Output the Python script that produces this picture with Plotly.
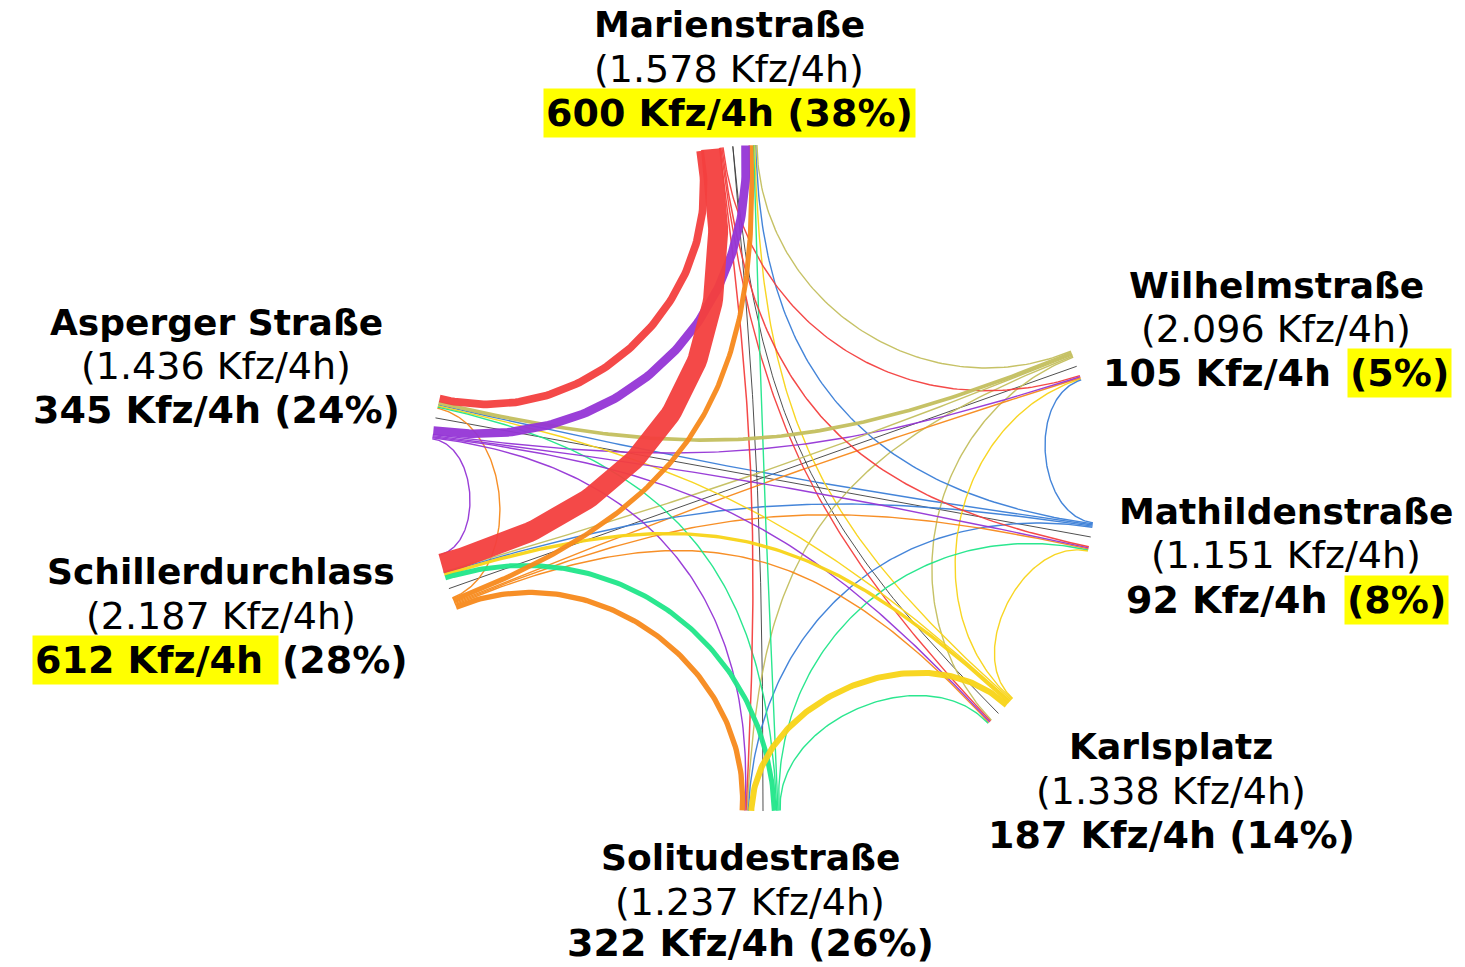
import math
import numpy as np
import plotly.graph_objects as go

W, H = 1465, 967

# Knotenpunkte im Uhrzeigersinn, beginnend oben
nodes = ["Marienstraße", "Wilhelmstraße", "Mathildenstraße", "Karlsplatz",
         "Solitudestraße", "Schillerdurchlass", "Asperger Straße"]
node_colors = ["#f4403f", "#c4bf5e", "#3b7fd8", "#f8d418",
               "#20e68a", "#f78a1c", "#9535d6"]
node_angles = [95.2, 19.6, -10.2, -45.0, -90.0, -160.6, 169.6]  # Grad, mathematisch

totals = ["1.578", "2.096", "1.151", "1.338", "1.237", "2.187", "1.436"]
focus_counts = [600, 105, 92, 187, 322, 612, 345]
focus_shares = [38, 5, 8, 14, 26, 28, 24]

# flows[i][j]: Kfz/4h von Knoten i nach Knoten j
flows = [
    #  Mar  Wil  Mat  Karl  Sol  Sch  Asp
    [0,    35,  45,  40,   45,  600, 230],   # Marienstraße
    [35,   0,   0,   30,   30,  40,  110],   # Wilhelmstraße
    [30,   40,  0,   0,    35,  40,  25],    # Mathildenstraße
    [30,   35,  40,  0,    180, 100, 40],    # Karlsplatz
    [40,   0,   35,  40,   0,   150, 40],    # Solitudestraße
    [150,  35,  35,  35,   160, 0,   30],    # Schillerdurchlass
    [260,  35,  40,  40,   40,  35,  0],     # Asperger Straße
]
# dünne graue Verbindungen zwischen den Anschlüssen
grey_links = [(0, 4), (6, 2), (1, 5), (3, 0)]

# Beschriftung: Mittelpunkt x, Zeilen-y (Name, Summe, Anteil), Markierung
label_x = [729, 1276, 1286, 1171, 750, 221, 216]
label_y = [(24, 69, 113), (285, 329, 373), (511, 555, 600), (746, 791, 835),
           (857, 902, 943), (571, 616, 660), (322, 366, 410)]
highlight = ["all", "share", "share", None, None, "count", None]

# Geometrie
CX, CY, R = 763.0, 478.0, 333.0
PORT_GAP = math.radians(1.6)
PACK = 0.8
KFZ_PER_PX = 30.0
MIN_W = 1.4
TWO_PI = 2 * math.pi


def chord_curve(a, b, n=120):
    """Kubische Bezier-Kurve mit radialen Tangenten zwischen den Winkeln a und b.
    Je weiter die Enden auseinander liegen, desto näher führt sie zur Mitte."""
    diff = abs((b - a + math.pi) % TWO_PI - math.pi)
    k = min(1.0, max(0.2, 1.0 - math.degrees(diff) / 145.0))
    p0 = np.array([math.cos(a), math.sin(a)])
    p3 = np.array([math.cos(b), math.sin(b)])
    t = np.linspace(0, 1, n)[:, None]
    pts = ((1 - t) ** 3) * p0 + 3 * (1 - t) ** 2 * t * k * p0 \
        + 3 * (1 - t) * t ** 2 * k * p3 + t ** 3 * p3
    return pts[:, 0], pts[:, 1]


def to_screen(u, v):
    return CX + R * np.asarray(u), CY - R * np.asarray(v)


theta = [math.radians(a) for a in node_angles]
n = len(nodes)


def width_px(v):
    return max(MIN_W, v / KFZ_PER_PX)


# Anschlusspunkte der Ströme an Quelle (Ausgang) und Ziel (Eingang)
out_end, in_end = {}, {}
for i in range(n):
    dests = [j for j in range(n) if flows[i][j] > 0]
    dests.sort(key=lambda j: -((theta[j] - theta[i]) % TWO_PI))
    pos = theta[i] + PORT_GAP
    for j in dests:
        w = width_px(flows[i][j]) * PACK / R
        out_end[(i, j)] = pos + w / 2
        pos += w
for j in range(n):
    srcs = [i for i in range(n) if flows[i][j] > 0]
    srcs.sort(key=lambda i: (theta[i] - theta[j]) % TWO_PI)
    pos = theta[j] - PORT_GAP
    for i in srcs:
        w = width_px(flows[i][j]) * PACK / R
        in_end[(i, j)] = pos - w / 2
        pos -= w

fig = go.Figure()

for a, b in grey_links:
    u, v = chord_curve(theta[a], theta[b])
    x, y = to_screen(u, v)
    fig.add_trace(go.Scatter(x=x, y=y, mode="lines",
                             line=dict(color="#3c3c3c", width=0.9),
                             hoverinfo="skip", showlegend=False))

pairs = [(i, j) for i in range(n) for j in range(n) if flows[i][j] > 0]
pairs.sort(key=lambda p: flows[p[0]][p[1]])
for i, j in pairs:
    u, v = chord_curve(out_end[(i, j)], in_end[(i, j)])
    x, y = to_screen(u, v)
    fig.add_trace(go.Scatter(
        x=x, y=y, mode="lines",
        line=dict(color=node_colors[i], width=width_px(flows[i][j])),
        opacity=0.95,
        name=f"{nodes[i]} → {nodes[j]}",
        hovertemplate=f"{nodes[i]} → {nodes[j]}: {flows[i][j]} Kfz/4h<extra></extra>",
        showlegend=False))

# Textbreiten (DejaVu Sans Bold, Einheiten pro em) zur Ausrichtung geteilter Zeilen
BOLD_EM = {" ": 0.348, "(": 0.456, ")": 0.456, "%": 1.002, "/": 0.368,
           "K": 0.775, "f": 0.435, "z": 0.581, "h": 0.712, "\u00a0": 0.348}
for d in "0123456789":
    BOLD_EM[d] = 0.696


def text_w(s, size):
    return sum(BOLD_EM.get(c, 0.65) for c in s) * size


FAMILY = "DejaVu Sans"
NAME_SIZE, TOTAL_SIZE, COUNT_SIZE = 36, 38, 38
YELLOW = "#ffff00"

annotations = []
for k in range(n):
    xc = label_x[k]
    y_name, y_total, y_count = label_y[k]
    annotations.append(dict(x=xc, y=y_name, text=f"<b>{nodes[k]}</b>",
                            font=dict(family=FAMILY, size=NAME_SIZE, color="black")))
    annotations.append(dict(x=xc, y=y_total, text=f"({totals[k]} Kfz/4h)",
                            font=dict(family=FAMILY, size=TOTAL_SIZE, color="black")))
    count_txt = f"{focus_counts[k]} Kfz/4h\u00a0"
    share_txt = f"({focus_shares[k]}%)"
    cfont = dict(family=FAMILY, size=COUNT_SIZE, color="black")
    mode = highlight[k]
    if mode is None or mode == "all":
        annotations.append(dict(x=xc, y=y_count,
                                text=f"<b>{focus_counts[k]} Kfz/4h {share_txt}</b>",
                                font=cfont,
                                bgcolor=YELLOW if mode == "all" else None,
                                borderpad=2))
    else:
        wl = text_w(count_txt, COUNT_SIZE)
        wr = text_w(share_txt, COUNT_SIZE)
        split = xc - (wl + wr) / 2 + wl
        annotations.append(dict(x=split, y=y_count, xanchor="right",
                                text=f"<b>{count_txt}</b>", font=cfont,
                                bgcolor=YELLOW if mode == "count" else None,
                                borderpad=2))
        annotations.append(dict(x=split, y=y_count, xanchor="left",
                                text=f"<b>{share_txt}</b>", font=cfont,
                                bgcolor=YELLOW if mode == "share" else None,
                                borderpad=2))

for a in annotations:
    a.setdefault("xanchor", "center")
    a.update(xref="x", yref="y", yanchor="middle", showarrow=False)
    if a.get("bgcolor") is None:
        a.pop("bgcolor", None)

fig.update_layout(
    width=W, height=H,
    margin=dict(l=0, r=0, t=0, b=0),
    paper_bgcolor="white", plot_bgcolor="white",
    xaxis=dict(range=[0, W], visible=False, fixedrange=True),
    yaxis=dict(range=[H, 0], visible=False, fixedrange=True),
    annotations=annotations,
    showlegend=False,
)

fig.write_html("out.html")
